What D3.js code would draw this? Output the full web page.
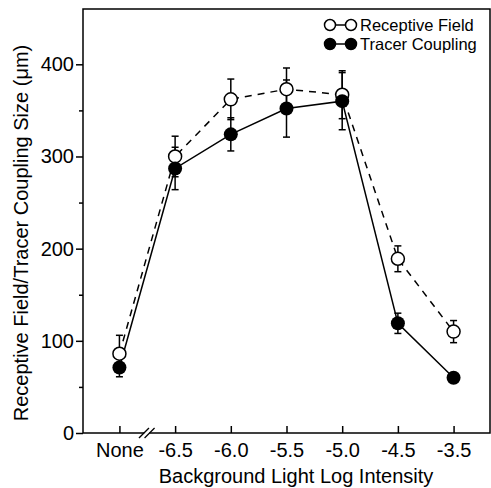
<!DOCTYPE html>
<html>
<head>
<meta charset="utf-8">
<script src="https://cdn.jsdelivr.net/npm/d3@7"></script>
<style>
  body { margin: 0; background: #fff; }
  text { font-family: "Liberation Sans", Arial, sans-serif; fill: #000; }
</style>
</head>
<body>
<div id="chart"></div>
<script>
// categories on the x axis (None = no background light)
const categories = ["None", "-6.5", "-6.0", "-5.5", "-5.0", "-4.5", "-3.5"];

// Receptive Field (open circles, dashed line)
const rfMean = [86, 300, 362, 373, 367, 189, 110];
const rfErr  = [20, 22, 22, 23, 26, 14, 12];

// Tracer Coupling (filled circles, solid line)
const tcMean = [71, 287, 324, 352, 360, 119, 60];
const tcErr  = [10, 23, 18, 31, 31, 11, 3];

const yMajor = [0, 100, 200, 300, 400];
const yMinor = [50, 150, 250, 350];

(function () {
  const W = 491, H = 488;
  const margin = { top: 9, right: 1, bottom: 55, left: 83 };
  const width = W - margin.left - margin.right;
  const height = H - margin.top - margin.bottom;

  const svg = d3.select("#chart").append("svg")
    .attr("width", W)
    .attr("height", H);

  const g = svg.append("g")
    .attr("transform", `translate(${margin.left},${margin.top})`);

  const x = d3.scalePoint().domain(categories).range([0, width]).padding(0.654);
  const y = d3.scaleLinear().domain([0, 460]).range([height, 0]);

  // y axis - major ticks with labels, minor ticks without
  const yAx = g.append("g")
    .call(d3.axisLeft(y).tickValues(yMajor).tickSize(7).tickPadding(2));
  yAx.select(".domain").remove();
  yAx.selectAll("line").attr("stroke-width", 1.5);
  yAx.selectAll("text").attr("font-size", "20px").style("font-family", "Liberation Sans, Arial, sans-serif");

  const yMin = g.append("g")
    .call(d3.axisLeft(y).tickValues(yMinor).tickSize(4).tickFormat(""));
  yMin.select(".domain").remove();
  yMin.selectAll("line").attr("stroke-width", 1.5);

  // x axis - ticks point inward
  const xAx = g.append("g")
    .attr("transform", `translate(0,${height})`)
    .call(d3.axisBottom(x).tickSize(-7).tickPadding(10));
  xAx.select(".domain").remove();
  xAx.selectAll("line").attr("stroke-width", 1.5);
  xAx.selectAll("text").attr("font-size", "20px").style("font-family", "Liberation Sans, Arial, sans-serif");

  // frame
  g.append("rect")
    .attr("width", width)
    .attr("height", height)
    .attr("fill", "none")
    .attr("stroke", "#000")
    .attr("stroke-width", 1.5);

  // axis break between None and -6.5
  const bx = (x("None") + x("-6.5")) / 2 - 0.5;
  g.append("rect")
    .attr("x", bx - 2.5).attr("y", height - 2)
    .attr("width", 5).attr("height", 4)
    .attr("fill", "#fff");
  [-2.8, 2.8].forEach((o) => {
    g.append("line")
      .attr("x1", bx + o - 5).attr("y1", height + 5)
      .attr("x2", bx + o + 5).attr("y2", height - 5)
      .attr("stroke", "#000").attr("stroke-width", 1.3);
  });

  const line = d3.line()
    .x((d, i) => x(categories[i]))
    .y((d) => y(d));

  g.append("path")
    .datum(rfMean)
    .attr("d", line)
    .attr("fill", "none")
    .attr("stroke", "#000")
    .attr("stroke-width", 1.5)
    .attr("stroke-dasharray", "7,6");

  g.append("path")
    .datum(tcMean)
    .attr("d", line)
    .attr("fill", "none")
    .attr("stroke", "#000")
    .attr("stroke-width", 1.5);

  // error bars
  function errorBars(mean, err) {
    const eg = g.append("g").attr("stroke", "#000").attr("stroke-width", 1.5);
    mean.forEach((m, i) => {
      const cx = x(categories[i]);
      eg.append("line").attr("x1", cx).attr("x2", cx).attr("y1", y(m - err[i])).attr("y2", y(m + err[i]));
      [m - err[i], m + err[i]].forEach((v) => {
        eg.append("line").attr("x1", cx - 3.5).attr("x2", cx + 3.5).attr("y1", y(v)).attr("y2", y(v));
      });
    });
  }
  errorBars(rfMean, rfErr);
  errorBars(tcMean, tcErr);

  g.selectAll(".rf")
    .data(rfMean)
    .join("circle")
    .attr("class", "rf")
    .attr("cx", (d, i) => x(categories[i]))
    .attr("cy", (d) => y(d))
    .attr("r", 6.5)
    .attr("fill", "#fff")
    .attr("stroke", "#000")
    .attr("stroke-width", 1.5);

  g.selectAll(".tc")
    .data(tcMean)
    .join("circle")
    .attr("class", "tc")
    .attr("cx", (d, i) => x(categories[i]))
    .attr("cy", (d) => y(d))
    .attr("r", 7)
    .attr("fill", "#000");

  // axis titles
  svg.append("text")
    .attr("x", 296)
    .attr("y", 483)
    .attr("text-anchor", "middle")
    .attr("font-size", "20px")
    .text("Background Light Log Intensity");

  svg.append("text")
    .attr("transform", "rotate(-90)")
    .attr("x", -233)
    .attr("y", 28)
    .attr("text-anchor", "middle")
    .attr("font-size", "20px")
    .text("Receptive Field/Tracer Coupling Size (μm)");

  // legend
  const legend = [
    { label: "Receptive Field", fill: "#fff", y: 25 },
    { label: "Tracer Coupling", fill: "#000", y: 44 }
  ];
  const lg = svg.append("g");
  legend.forEach((d) => {
    lg.append("line")
      .attr("x1", 330).attr("x2", 351).attr("y1", d.y).attr("y2", d.y)
      .attr("stroke", "#000").attr("stroke-width", 1.5);
    [330, 351].forEach((cx) => {
      lg.append("circle")
        .attr("cx", cx).attr("cy", d.y).attr("r", 5.5)
        .attr("fill", d.fill).attr("stroke", "#000").attr("stroke-width", 1.5);
    });
    lg.append("text")
      .attr("x", 360)
      .attr("y", d.y + 6)
      .attr("font-size", "16.5px")
      .text(d.label);
  });
})();
</script>
</body>
</html>
